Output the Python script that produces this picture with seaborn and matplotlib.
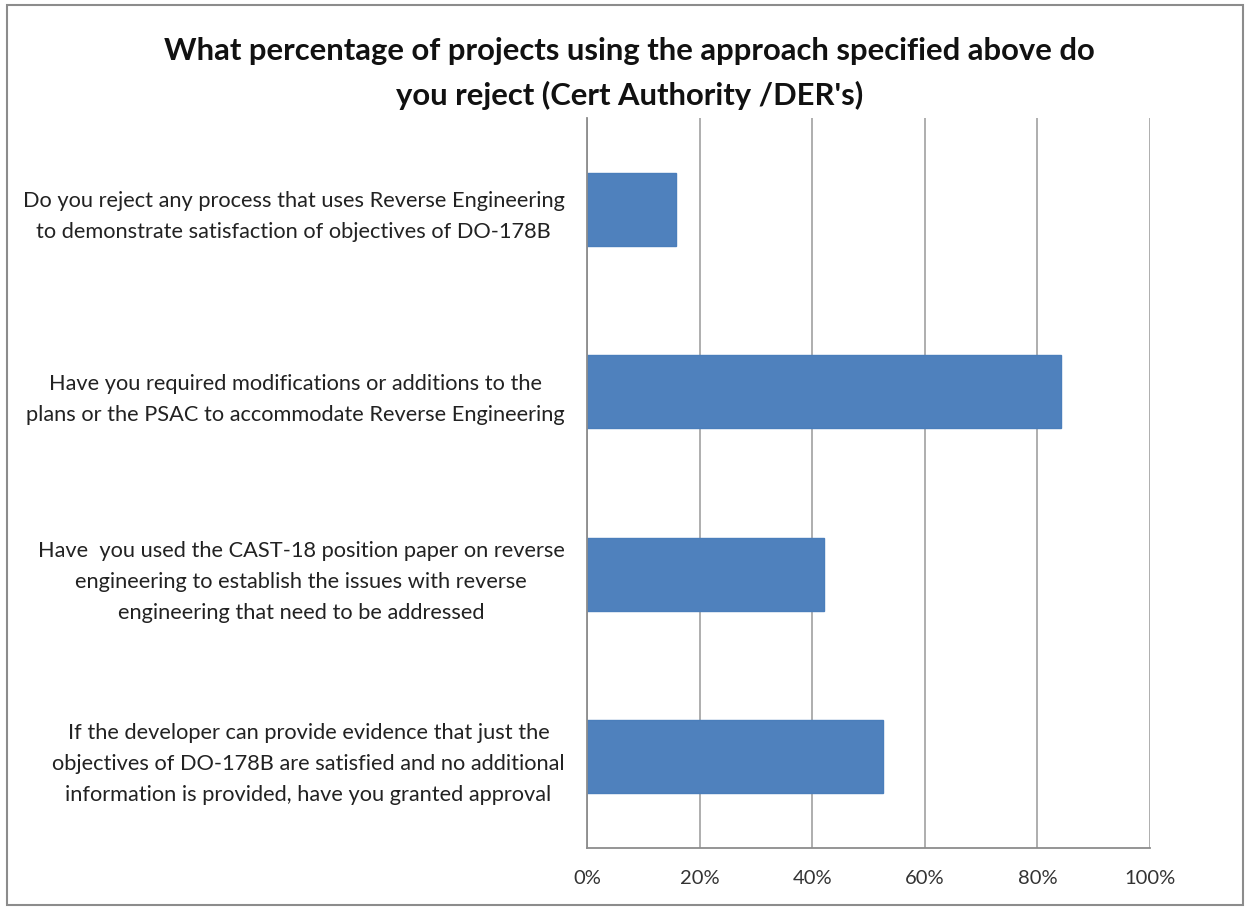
import matplotlib
matplotlib.use("Agg")
import matplotlib.pyplot as plt
import matplotlib.ticker as mticker
from matplotlib.patches import Rectangle
import seaborn as sns
import pandas as pd

title = "What percentage of projects using the approach specified above do\nyou reject (Cert Authority /DER's)"

questions = [
    "Do you reject any process that uses Reverse Engineering\nto demonstrate satisfaction of objectives of DO-178B",
    "Have you required modifications or additions to the\nplans or the PSAC to accommodate Reverse Engineering",
    "Have  you used the CAST-18 position paper on reverse\nengineering to establish the issues with reverse\nengineering that need to be addressed",
    "If the developer can provide evidence that just the\nobjectives of DO-178B are satisfied and no additional\ninformation is provided, have you granted approval",
]
share = [0.158, 0.842, 0.421, 0.526]
x_ticks = [0.0, 0.2, 0.4, 0.6, 0.8, 1.0]

df = pd.DataFrame({"question": questions, "share": share})

sns.set_theme(style="white")
plt.rcParams["font.family"] = ["Lato", "DejaVu Sans"]

fig = plt.figure(figsize=(12.49, 9.10), dpi=100)
ax = fig.add_axes([587 / 1249, 1 - 848 / 910, (1150 - 587) / 1249, (848 - 118) / 910])

sns.barplot(data=df, x="share", y="question", orient="h", width=0.4,
            color="#4F81BD", edgecolor="#4A7EBB", linewidth=1, saturation=1, ax=ax)

ax.set_xlim(0, 1)
ax.set_ylim(3.5, -0.5)
ax.set_xticks(x_ticks)
ax.xaxis.set_major_formatter(mticker.PercentFormatter(1.0, decimals=0))
ax.grid(axis="x", color="#A8A8A8", linewidth=1.3)
ax.set_axisbelow(True)
ax.set_xlabel("")
ax.set_ylabel("")

for side in ("top", "right"):
    ax.spines[side].set_visible(False)
for side in ("left", "bottom"):
    ax.spines[side].set_color("#8C8C8C")
    ax.spines[side].set_linewidth(1.3)

ax.tick_params(axis="x", which="major", direction="out", length=6, width=1.3,
               color="#8C8C8C", labelsize=14.5, labelcolor="#333333", pad=10)
ax.tick_params(axis="y", which="major", length=0, pad=16, labelsize=15.7,
               labelcolor="#222222")
ax.yaxis.set_minor_locator(mticker.FixedLocator([-0.5, 0.5, 1.5, 2.5, 3.5]))
ax.tick_params(axis="y", which="minor", direction="out", length=6, width=1.3,
               color="#8C8C8C")
for lbl in ax.get_yticklabels():
    lbl.set_multialignment("center")
    lbl.set_linespacing(1.68)

fig.text(0.504, 1 - 37 / 910, title, ha="center", va="top", multialignment="center",
         fontsize=22.3, fontweight="bold", color="#111111", linespacing=1.65)

fig.patches.append(Rectangle((7 / 1249, 5 / 910), 1236 / 1249, 900 / 910,
                             transform=fig.transFigure, fill=False,
                             edgecolor="#8C8C8C", linewidth=1.5))

fig.savefig("out.png", dpi=100, facecolor="white")
